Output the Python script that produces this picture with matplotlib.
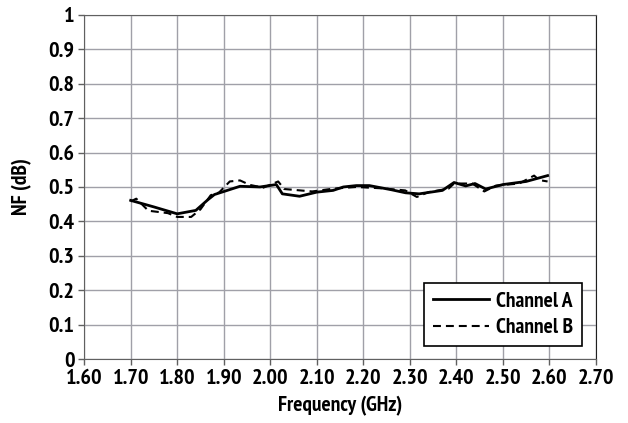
import matplotlib.pyplot as plt
from matplotlib.ticker import MultipleLocator, FormatStrFormatter

# Channel A (solid)
freq_a = [1.70, 1.75, 1.80, 1.84, 1.866, 1.88, 1.935, 1.978, 2.013, 2.026,
          2.063, 2.10, 2.135, 2.157, 2.185, 2.213, 2.26, 2.291, 2.32, 2.37,
          2.395, 2.42, 2.44, 2.463, 2.50, 2.55, 2.596]
nf_a = [0.461, 0.442, 0.422, 0.432, 0.463, 0.478, 0.502, 0.500, 0.507, 0.480,
        0.473, 0.485, 0.490, 0.500, 0.504, 0.504, 0.492, 0.483, 0.480, 0.490,
        0.513, 0.503, 0.510, 0.494, 0.507, 0.516, 0.533]

# Channel B (dashed)
freq_b = [1.70, 1.712, 1.738, 1.78, 1.80, 1.83, 1.85, 1.872, 1.89, 1.913,
          1.935, 1.956, 1.985, 2.017, 2.03, 2.09, 2.135, 2.185, 2.24, 2.29,
          2.315, 2.34, 2.383, 2.395, 2.434, 2.46, 2.485, 2.535, 2.567, 2.578,
          2.596]
nf_b = [0.458, 0.466, 0.431, 0.424, 0.413, 0.413, 0.435, 0.476, 0.484, 0.516,
        0.519, 0.506, 0.498, 0.516, 0.494, 0.487, 0.495, 0.500, 0.496, 0.490,
        0.471, 0.485, 0.495, 0.510, 0.510, 0.487, 0.504, 0.510, 0.533, 0.520,
        0.516]

plt.rcParams['font.family'] = ['PT Sans Narrow', 'DejaVu Sans']
plt.rcParams['font.weight'] = 'bold'

fig = plt.figure(figsize=(6.28, 4.23), dpi=100)
ax = fig.add_axes([0.134, 0.151, 0.815, 0.814])

ax.plot(freq_a, nf_a, color='black', lw=2.0, label='Channel A')
ax.plot(freq_b, nf_b, color='black', lw=1.5, ls=(0, (3.8, 2.4)), label='Channel B')

ax.set_xlim(1.60, 2.70)
ax.set_ylim(0, 1)
ax.xaxis.set_major_locator(MultipleLocator(0.1))
ax.yaxis.set_major_locator(MultipleLocator(0.1))
ax.xaxis.set_major_formatter(FormatStrFormatter('%.2f'))
ax.yaxis.set_major_formatter(plt.FuncFormatter(lambda v, p: f'{v:.1f}'.rstrip('0').rstrip('.') if v in (0, 1) else f'{v:.1f}'))
ax.grid(True, color='#a0a0a8', lw=1.0)
ax.set_axisbelow(True)
for side in ['left', 'bottom', 'right', 'top']:
    ax.spines[side].set_color('#606060')
ax.spines['right'].set_color('#202020')
ax.tick_params(direction='out', length=4, width=1, color='#606060', labelsize=16,
               pad=3)
for lbl in ax.get_xticklabels() + ax.get_yticklabels():
    lbl.set_fontweight('bold')

ax.set_xlabel('Frequency (GHz)', fontsize=15.5, fontweight='bold', labelpad=6)
ax.set_ylabel('NF (dB)', fontsize=15.5, fontweight='bold', labelpad=12)

leg = ax.legend(loc='lower right', bbox_to_anchor=(0.973, 0.038), borderaxespad=0,
                frameon=True, fancybox=False, edgecolor='black', framealpha=1,
                handlelength=2.6, handletextpad=0.35, borderpad=0.4,
                labelspacing=0.35, prop={'weight': 'bold', 'size': 15.5})
leg.get_frame().set_linewidth(1.2)

fig.savefig('out.png', dpi=100)
